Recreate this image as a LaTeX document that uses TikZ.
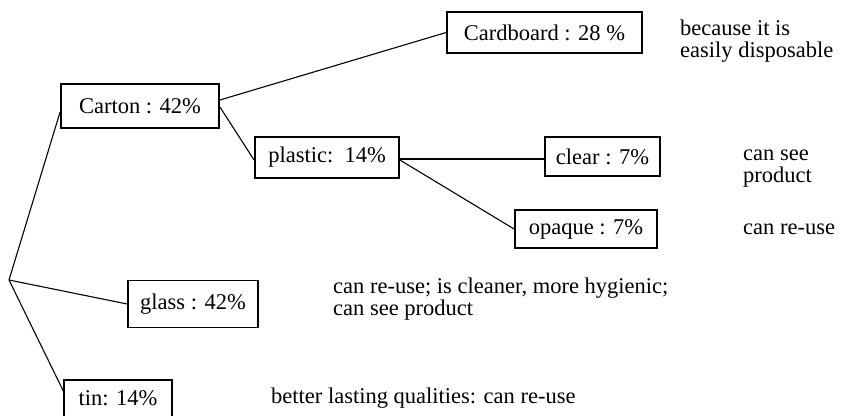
\documentclass[tikz,border=0pt]{standalone}
\usepackage{fontspec}
\setmainfont{Liberation Serif}
\begin{document}
\begin{tikzpicture}[x=1pt,y=-1pt,
  boxtext/.style={inner sep=0pt, align=center, font=\fontsize{22.5}{26}\selectfont},
  box/.style={boxtext, draw=black, line width=1.8pt},
  frame/.style={draw=black, line width=1.8pt},
  note/.style={inner sep=0pt, anchor=west, align=left, font=\fontsize{22.5}{22}\selectfont},
  link/.style={draw=black, line width=1.1pt}]
\useasboundingbox (0,0) rectangle (844,416);
\clip (0,0) rectangle (844,416);
\fill[white] (0,0) rectangle (844,416);
% boxes
\node[box, minimum width=158pt, minimum height=44pt] (carton) at (140,106) {Carton : 42\%};
\node[box, minimum width=195pt, minimum height=41pt] (cardboard) at (544.5,32.5) {Cardboard : 28 \%};
\node[box, minimum width=144pt, minimum height=41pt] (plastic) at (327,157.5) {plastic:\ \ 14\%};
\node[box, minimum width=115pt, minimum height=39pt] (clear) at (602.5,156.5) {clear : 7\%};
\node[box, minimum width=142pt, minimum height=38pt] (opaque) at (586,229) {opaque : 7\%};
\node[box, minimum width=130pt, minimum height=47pt] (glass) at (193,304) {glass : 42\%};
\node[boxtext, minimum width=107pt, minimum height=36pt] (tin) at (118,398) {tin: 14\%};
\draw[frame] (tin.south west) -- (tin.north west) -- (tin.north east) -- (tin.south east);
% root
\coordinate (root) at (9,280);
% connectors
\draw[link] (root) -- ([yshift=-6pt]carton.west);
\draw[link] (root) -- (glass.west);
\draw[link] (root) -- ([yshift=5pt]tin.west);
\draw[link] ([yshift=6pt]carton.east) -- (cardboard.west);
\draw[link] ([yshift=-1pt]carton.east) -- ([yshift=-2.5pt]plastic.west);
\draw[link] ([yshift=-1.5pt]plastic.east) -- ([yshift=-2.5pt]clear.west);
\draw[link] ([yshift=-2.5pt]plastic.east) -- (opaque.west);
% notes
\node[note] (n1) at (680,41) {because it is\\easily disposable};
\node[note] (n2) at (743,169) {can see\\product};
\node[note] (n3) at (743,229) {can re-use};
\node[note] (n4) at (333,299) {can re-use; is cleaner, more hygienic;\\can see product};
\node[note] (n5) at (271,398) {better lasting qualities: can re-use};
\end{tikzpicture}
\end{document}
